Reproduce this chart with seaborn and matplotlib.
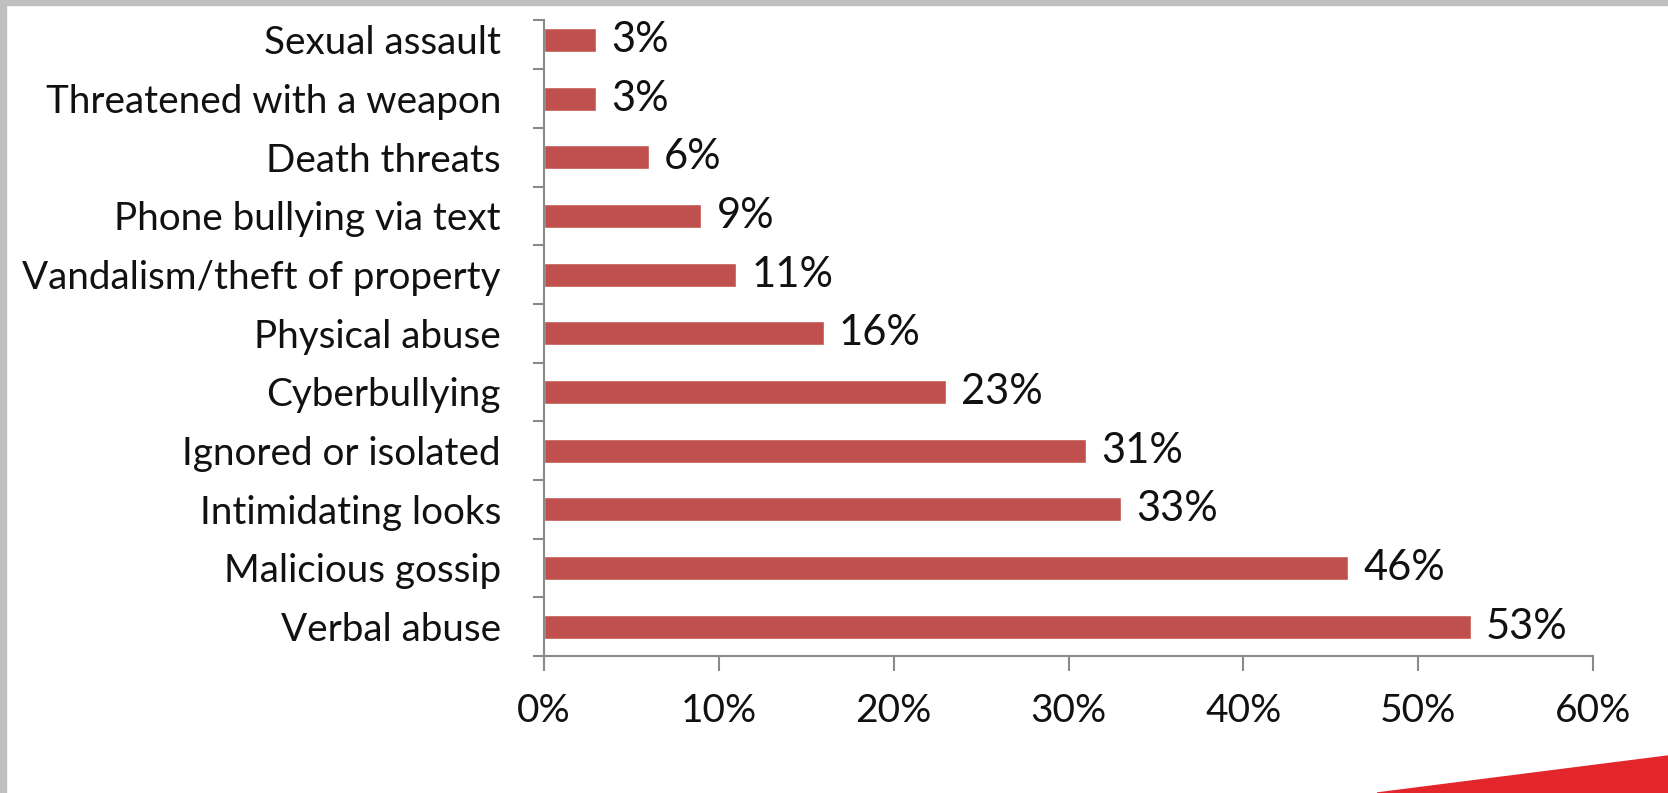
import matplotlib
matplotlib.use('Agg')
import matplotlib.pyplot as plt
import seaborn as sns
import pandas as pd
from matplotlib.patches import Rectangle, Polygon
from matplotlib.ticker import PercentFormatter

# 数据
categories = ['Sexual assault', 'Threatened with a weapon', 'Death threats',
              'Phone bullying via text', 'Vandalism/theft of property',
              'Physical abuse', 'Cyberbullying', 'Ignored or isolated',
              'Intimidating looks', 'Malicious gossip', 'Verbal abuse']
values = [3, 3, 6, 9, 11, 16, 23, 31, 33, 46, 53]
x_ticks = [0, 10, 20, 30, 40, 50, 60]

df = pd.DataFrame({'category': categories, 'value': values})

sns.set_style('white')
plt.rcParams['font.family'] = ['Lato', 'DejaVu Sans']

fig = plt.figure(figsize=(16.68, 7.93), dpi=100)
ax = fig.add_axes([544 / 1668, 1 - 656 / 793, (1593 - 544) / 1668, (656 - 20) / 793])

sns.barplot(data=df, x='value', y='category', orient='h', color='#C0504D',
            saturation=1, width=0.41, ax=ax)

# 数值标签
ax.bar_label(ax.containers[0], labels=[f'{v}%' for v in values],
             padding=11, fontsize=30, color='#111111')

ax.set_xlim(0, 60)
ax.set_ylim(10.5, -0.34)
ax.set_xticks(x_ticks)
ax.xaxis.set_major_formatter(PercentFormatter(decimals=0))
ax.set_xlabel('')
ax.set_ylabel('')

# 坐标轴样式
for s in ['top', 'right']:
    ax.spines[s].set_visible(False)
for s in ['left', 'bottom']:
    ax.spines[s].set_color('#8a8a8a')
    ax.spines[s].set_linewidth(1.5)

ax.tick_params(axis='x', which='major', bottom=True, direction='out', length=11,
               width=1.5, color='#8a8a8a', labelsize=28, pad=16, labelcolor='#111111')
ax.tick_params(axis='y', which='major', length=0, pad=31, labelsize=27.8,
               labelcolor='#111111')
ax.set_yticks([i + 0.5 for i in range(len(categories))] + [-0.34], minor=True)
ax.tick_params(axis='y', which='minor', left=True, direction='out', length=8,
               width=1.5, color='#8a8a8a')

# 背景装饰
fig.patches.append(Rectangle((0, 1 - 5 / 793), 1, 5 / 793, transform=fig.transFigure,
                             color='#bfbfbf', zorder=0))
fig.patches.append(Rectangle((0, 0), 6 / 1668, 1, transform=fig.transFigure,
                             color='#bfbfbf', zorder=0))
fig.patches.append(Polygon([(1377 / 1668, 0), (1, 37 / 793), (1, 0)],
                           closed=True, transform=fig.transFigure,
                           color='#E3262B', zorder=0))

plt.savefig('out.png', dpi=100)
